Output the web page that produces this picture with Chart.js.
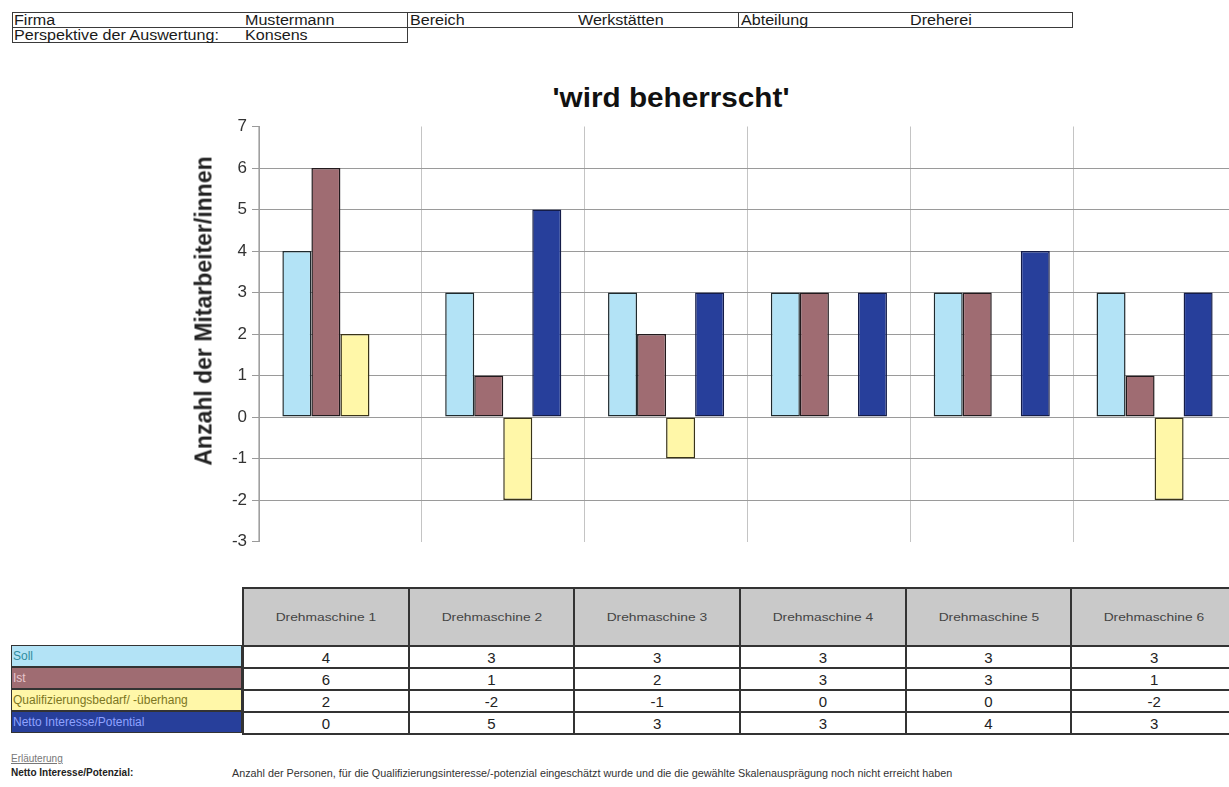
<!DOCTYPE html>
<html lang="de">
<head>
<meta charset="utf-8">
<title>wird beherrscht</title>
<script src="https://cdn.jsdelivr.net/npm/chart.js@4/dist/chart.umd.min.js"></script>
<style>
  html, body { margin: 0; padding: 0; background: #fff; overflow: hidden; width: 1229px; height: 787px; }
  body { position: relative; font-family: "Liberation Sans", Arial, sans-serif; color: #222; }
  .abs { position: absolute; white-space: nowrap; }
  .box { position: absolute; border: 1.5px solid #3a3a3a; box-sizing: border-box; }
  .hdr { font-size: 14px; line-height: 15px; transform: scaleX(1.15); transform-origin: left center; color: #1a1a1a; }
  #title { left: 471px; width: 400px; top: 83px; text-align: center; font-weight: bold; font-size: 27px; color: #111; transform: scaleX(1.1); }
  #yTitle { left: 204px; top: 311px; font-weight: bold; font-size: 23px; color: #222; transform: translate(-50%, -50%) rotate(-90deg); }
  #chartWrap { position: absolute; left: 0; top: 0; width: 1240px; height: 560px; }
  table.data { position: absolute; border-collapse: collapse; }
  table.data td { border: 2px solid #333; padding: 0; text-align: center; box-sizing: border-box; }
  table.data td.head { background: #c9c9c9; color: #444; font-size: 11.5px; height: 58px; }
  table.data td.head span { display: inline-block; transform: scaleX(1.2); }
  table.data td.val { font-size: 15px; height: 22px; color: #222; }
  .legend { position: absolute; left: 11px; width: 231px; height: 22px; box-sizing: border-box; border: 1px solid #333; font-size: 12px; line-height: 20px; padding-left: 1px; }
  .note { font-size: 10px; }
</style>
</head>
<body>

<!-- page header -->
<div class="box" style="left:12px; top:12px; width:396px; height:31px;"></div>
<div class="box" style="left:12px; top:27px; width:396px; height:1.5px; border-width:1.5px 0 0 0;"></div>
<div class="box" style="left:407px; top:12px; width:332px; height:16px;"></div>
<div class="box" style="left:738px; top:12px; width:335px; height:16px;"></div>
<div class="abs hdr" style="left:14px; top:12.5px;">Firma</div>
<div class="abs hdr" style="left:245px; top:12.5px;">Mustermann</div>
<div class="abs hdr" style="left:410px; top:12.5px;">Bereich</div>
<div class="abs hdr" style="left:578px; top:12.5px;">Werkstätten</div>
<div class="abs hdr" style="left:741px; top:12.5px;">Abteilung</div>
<div class="abs hdr" style="left:910px; top:12.5px;">Dreherei</div>
<div class="abs hdr" style="left:14px; top:27.5px;">Perspektive der Auswertung:</div>
<div class="abs hdr" style="left:245px; top:27.5px;">Konsens</div>

<div id="title" class="abs">'wird beherrscht'</div>

<div id="chartWrap"><canvas id="chart" width="1240" height="560"></canvas></div>
<div id="yTitle" class="abs">Anzahl der Mitarbeiter/innen</div>

<div id="legendRows"></div>
<table class="data" id="dataTable" style="left:242px; top:587px; width:996px;"></table>

<div class="abs note" style="left:11px; top:753px; color:#777; text-decoration:underline;">Erläuterung</div>
<div class="abs note" style="left:11px; top:767px; font-weight:bold;">Netto Interesse/Potenzial:</div>
<div class="abs note" style="left:232px; top:767px; color:#333; font-size:10.8px;">Anzahl der Personen, für die Qualifizierungsinteresse/-potenzial eingeschätzt wurde und die die gewählte Skalenausprägung noch nicht erreicht haben</div>

<script>
// categories and series
const categories = ["Drehmaschine 1", "Drehmaschine 2", "Drehmaschine 3", "Drehmaschine 4", "Drehmaschine 5", "Drehmaschine 6"];
const seriesNames = ["Soll", "Ist", "Qualifizierungsbedarf/ -überhang", "Netto Interesse/Potential"];
const soll  = [4, 3, 3, 3, 3, 3];
const ist   = [6, 1, 2, 3, 3, 1];
const bedarf = [2, -2, -1, 0, 0, -2];
const netto = [0, 5, 3, 3, 4, 3];
const yTicks = [7, 6, 5, 4, 3, 2, 1, 0, -1, -2, -3];

const fills   = ["#b3e3f6", "#9f6c72", "#fff7a8", "#273f9b"];
const borders = ["#1f2a2e", "#221a1d", "#3a3418", "#141c48"];
const legendText = ["#2f8d9e", "#e6c6cc", "#7c7622", "#8fa2ff"];
const values = [soll, ist, bedarf, netto];

// legend cells and data table
const legendRows = document.getElementById('legendRows');
seriesNames.forEach((name, i) => {
  const d = document.createElement('div');
  d.className = 'legend';
  d.style.top = (645 + i * 22) + 'px';
  d.style.background = fills[i];
  d.style.color = legendText[i];
  d.textContent = name;
  legendRows.appendChild(d);
});
const table = document.getElementById('dataTable');
const headRow = table.insertRow();
categories.forEach(c => {
  const td = headRow.insertCell();
  td.className = 'head';
  const span = document.createElement('span');
  span.textContent = c;
  td.appendChild(span);
});
values.forEach(arr => {
  const tr = table.insertRow();
  arr.forEach(v => {
    const td = tr.insertCell();
    td.className = 'val';
    td.textContent = v;
  });
});

const datasets = seriesNames.map((name, i) => ({
  label: name,
  data: values[i],
  backgroundColor: fills[i],
  borderColor: borders[i],
  borderWidth: ctx => (ctx.raw === 0 ? 0 : 1.5),
  borderSkipped: false,
  barPercentage: 1,
  categoryPercentage: 0.713
}));

new Chart(document.getElementById('chart'), {
  type: 'bar',
  data: { labels: categories, datasets },
  options: {
    responsive: false,
    animation: false,
    layout: { padding: { left: 190, right: 4, top: 126.5, bottom: 18.5 } },
    plugins: { legend: { display: false }, title: { display: false }, tooltip: { enabled: false } },
    scales: {
      x: {
        offset: true,
        grid: { offset: true, color: '#c4c4c4', lineWidth: 1, drawTicks: false },
        border: { display: false },
        ticks: { display: false },
        afterFit: s => { s.height = 0; }
      },
      y: {
        min: -3,
        max: 7,
        afterBuildTicks: s => { s.ticks = yTicks.map(v => ({ value: v })); },
        ticks: { color: '#333', font: { family: 'Liberation Sans', size: 17 }, padding: 5 },
        grid: {
          color: ctx => (ctx.tick && (ctx.tick.value === 7 || ctx.tick.value === -3) ? 'rgba(0,0,0,0)' : '#9a9a9a'),
          tickColor: '#9a9a9a',
          tickLength: 7,
          lineWidth: 1
        },
        border: { display: true, color: '#a0a0a0' },
        afterFit: s => { s.width = 69; }
      }
    }
  }
});
</script>
</body>
</html>
